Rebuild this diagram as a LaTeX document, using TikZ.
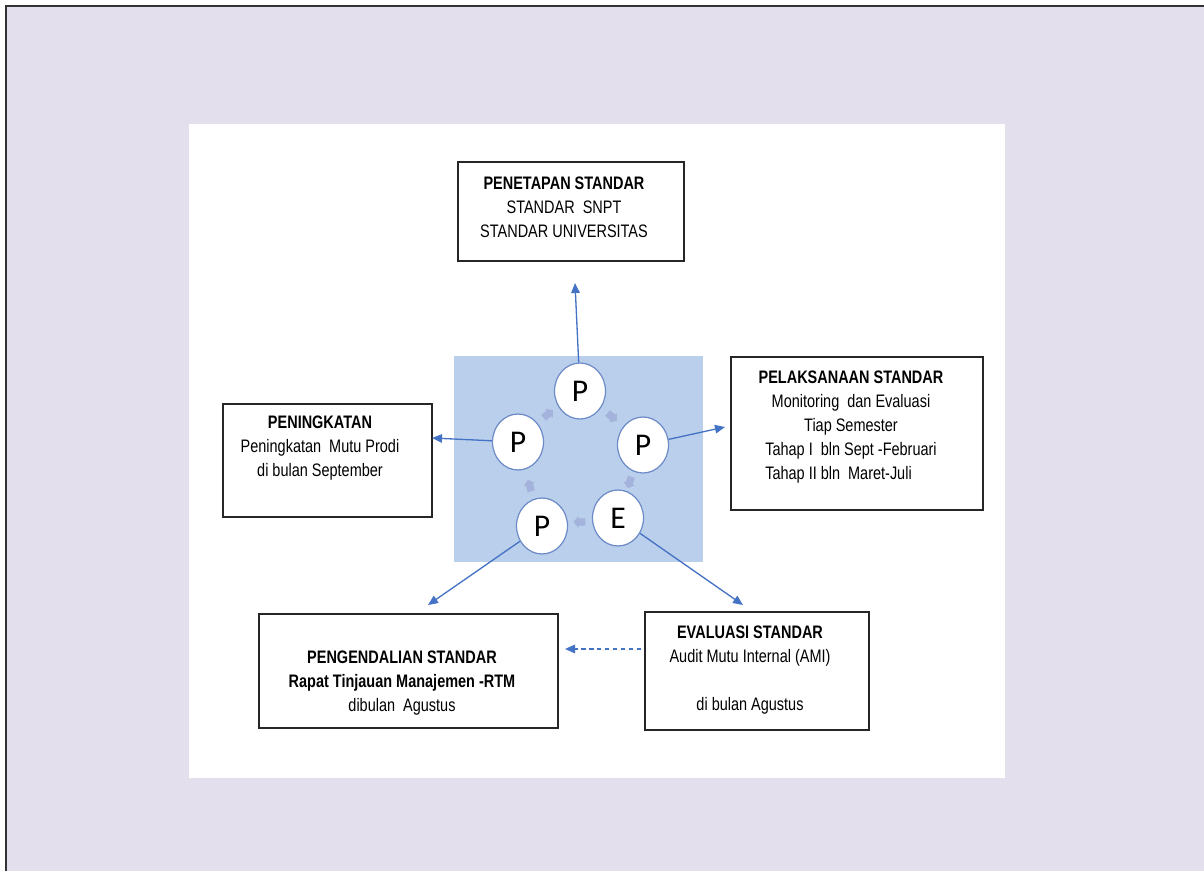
\documentclass[tikz,border=0pt]{standalone}
\usepackage{fontspec}
\setmainfont{Liberation Sans}[FakeStretch=0.8]
\newfontfamily\circfont{Carlito}
\usetikzlibrary{shapes.geometric, shapes.arrows, arrows.meta}
\definecolor{lav}{HTML}{E4DFEC}
\definecolor{pale}{HTML}{BACFEB}
\definecolor{ringblue}{HTML}{6E8CC8}
\definecolor{linkblue}{HTML}{4472C4}
\definecolor{cycgray}{HTML}{A4B3DC}
\tikzset{
 box/.style={rectangle, draw=black!85, line width=0.85pt, inner sep=0},
 txt/.style={align=center, inner sep=0, font=\fontsize{10.3}{13.6}\selectfont},
 ring/.style={ellipse, draw=ringblue, line width=0.7pt, fill=white, minimum width=1.02cm, minimum height=1.12cm, inner sep=0, font=\circfont\fontsize{18}{18}\selectfont},
 cyc/.style={single arrow, fill=cycgray, minimum height=0.24cm, minimum width=0.24cm, single arrow head extend=0.04cm, single arrow tip angle=100, inner sep=1.6pt},
 link/.style={draw=linkblue, line width=0.75pt, -{Triangle[length=0.2cm,width=0.17cm]}},
}

\begin{document}
\begin{tikzpicture}[x=0.02cm, y=-0.02cm]
\useasboundingbox (0,0) rectangle (1204,871);
\fill[white] (0,0) rectangle (1204,871);
\fill[lav] (6,6) rectangle (1204,871);
\draw[black!80, line width=1.2pt] (6,871) -- (6,6) -- (1204,6);
\fill[white] (189,124) rectangle (1005,778);

\node[rectangle, fill=pale, minimum width=4.98cm, minimum height=4.12cm] (bg) at (578.5,459) {};

\node[ring] (c1) at (580,391) {P};
\node[ring] (c2) at (643,445) {P};
\node[ring] (c3) at (618,518) {E};
\node[ring] (c4) at (542,526) {P};
\node[ring] (c5) at (518,442) {P};

\node[cyc, rotate=39] (a1) at (547,415) {};
\node[cyc, rotate=-40] (a2) at (611,416) {};
\node[cyc, rotate=-109] (a3) at (630,481) {};
\node[cyc, rotate=180] (a4) at (581,522) {};
\node[cyc, rotate=106] (a5) at (530,487) {};

\node[box, minimum width=4.52cm, minimum height=1.98cm] (pt) at (571,211.5) {};
\node[txt] (ptT) at (564,207) {\textbf{PENETAPAN STANDAR}\\STANDAR\ \ SNPT\\STANDAR UNIVERSITAS};

\node[box, minimum width=5.04cm, minimum height=3.06cm] (pl) at (857,433.5) {};
\node[txt] (plT) at (851,427) {\textbf{PELAKSANAAN STANDAR}\\Monitoring\ \ dan Evaluasi\\Tiap Semester\\Tahap I\ \ bln Sept -Februari\\\rlap{Tahap II bln\ \ Maret-Juli}\phantom{Tahap I\ \ bln Sept -Februari}};

\node[box, minimum width=4.18cm, minimum height=2.26cm] (pk) at (327.5,460.5) {};
\node[txt] (pkT) at (320,448) {\textbf{PENINGKATAN}\\Peningkatan\ \ Mutu Prodi\\di bulan September};

\node[box, minimum width=5.98cm, minimum height=2.28cm] (pg) at (408.5,671) {};
\node[txt] (pgT) at (402,683) {\textbf{PENGENDALIAN STANDAR}\\\textbf{Rapat Tinjauan Manajemen -RTM}\\dibulan\ \ Agustus};

\node[box, minimum width=4.48cm, minimum height=2.36cm] (ev) at (757,671) {};
\node[txt] (evT) at (750,670) {\textbf{EVALUASI STANDAR}\\Audit Mutu Internal (AMI)\\\mbox{}\\di bulan Agustus};

\coordinate (e1) at (575,283);
\coordinate (e2) at (725,427);
\coordinate (e3) at (432,438);
\coordinate (e4) at (428,605);
\coordinate (e5) at (743,605);
\coordinate (d1) at (641,649);
\coordinate (d2) at (565,649);

\draw[link] (c1) -- (e1);
\draw[link] (c2) -- (e2);
\draw[link] (c5) -- (e3);
\draw[link] (c4) -- (e4);
\draw[link] (c3) -- (e5);
\draw[link, dash pattern=on 2.5pt off 2pt] (d1) -- (d2);
\end{tikzpicture}
\end{document}
